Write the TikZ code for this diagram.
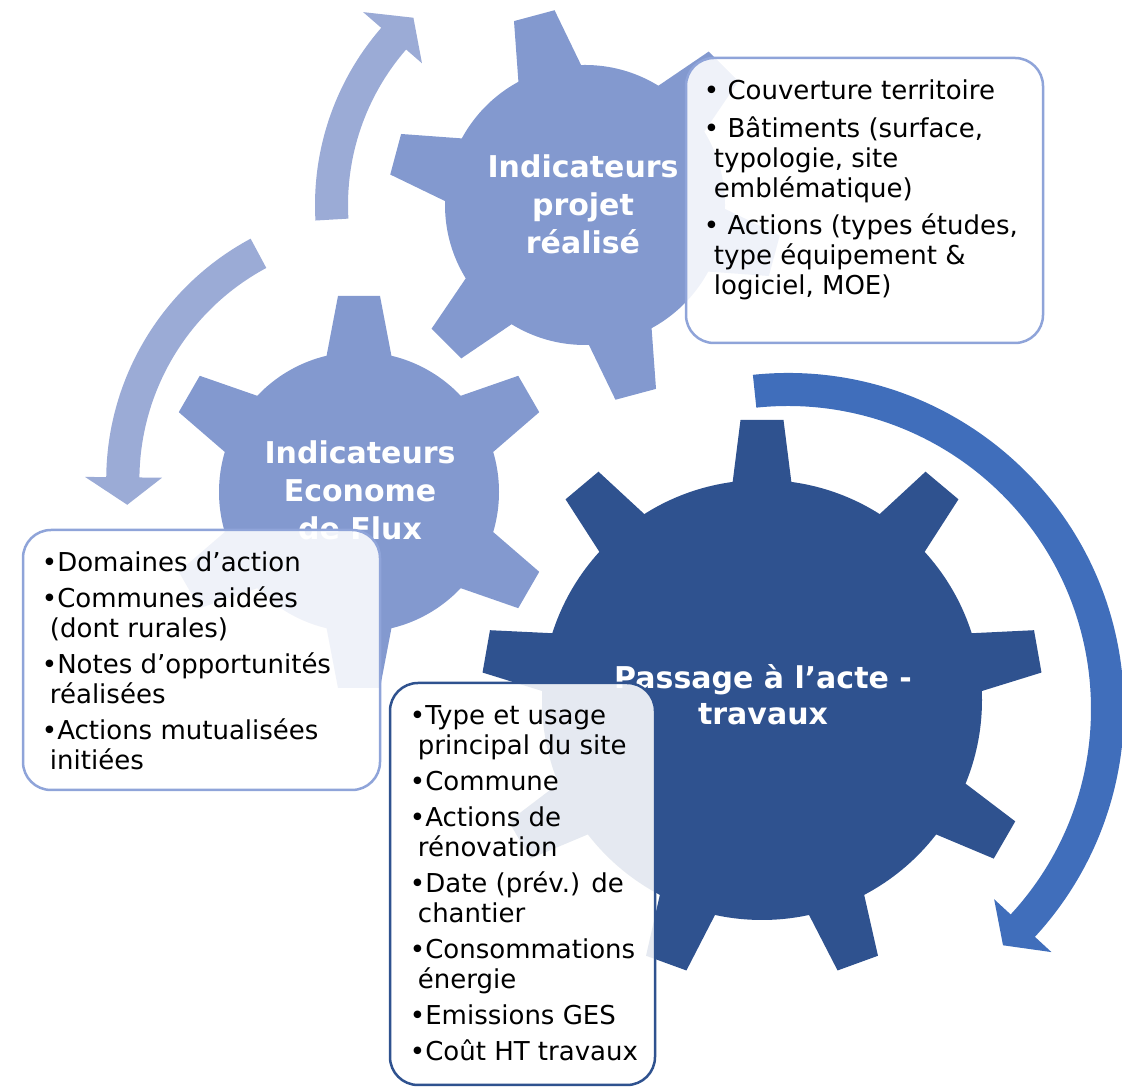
\documentclass[tikz,border=0pt]{standalone}
\usepackage{fontspec}
\setmainfont{DejaVu Sans}
\usetikzlibrary{positioning}

\definecolor{gearlight}{RGB}{131,153,207}
\definecolor{geardark}{RGB}{47,82,143}
\definecolor{arrowlight}{RGB}{155,171,214}
\definecolor{arrowdark}{RGB}{64,110,187}
\definecolor{boxline}{RGB}{143,164,217}

\begin{document}
\begin{tikzpicture}[x=1pt,y=1pt,
  geartitle/.style={text=white, align=center, font=\fontsize{30}{38}\selectfont\bfseries},
  infobox/.style={draw=boxline, line width=2.5pt, rounded corners=28pt, fill=white, fill opacity=0.88},
  listtext/.style={align=left, font=\fontsize{26}{30}\selectfont}]
\tikzstyle{every node}+=[inner sep=0pt]
\useasboundingbox (0,0) rectangle (1122,1089);

\fill[arrowlight, shift={(380,609)}] (118.2:273.8) arc[start angle=118.2, end angle=179.4, radius=273.8]
  -- (179.4:295) -- (185.6:254) -- (179.4:218) -- (179.4:240.6)
  arc[start angle=179.4, end angle=118.2, radius=240.6] -- cycle;
\fill[arrowlight, shift={(585,884)}] (183.3:270) arc[start angle=183.3, end angle=139, radius=270]
  -- (139:294) -- (132.5:254) -- (139:216) -- (139:237)
  arc[start angle=139, end angle=183.3, radius=237] -- cycle;
\fill[arrowdark, shift={(788,380)}] (96:336) arc[start angle=96, end angle=-42.7, radius=336]
  -- (-42.7:358.5) -- (-47.7:319.5) -- (-42.7:280.5) -- (-42.7:303)
  arc[start angle=-42.7, end angle=96, radius=303] -- cycle;

\begin{scope}[shift={(762,389)}]
\fill[geardark] (0,0) circle[radius=220];
\foreach \a in {90,50,...,-230}
  \fill[geardark, rotate=\a] (205,-31) -- (280,-21.5) -- (280,21.5) -- (205,31) -- cycle;
\end{scope}
\begin{scope}[shift={(585,884)}]
\fill[gearlight] (0,0) circle[radius=140];
\foreach \a in {105,165,...,405}
  \fill[gearlight, rotate=\a] (128,-34) -- (196,-21) -- (196,21) -- (128,34) -- cycle;
\end{scope}
\begin{scope}[shift={(359,597)}]
\fill[gearlight] (0,0) circle[radius=140];
\foreach \a in {90,150,...,390}
  \fill[gearlight, rotate=\a] (128,-34) -- (196,-21) -- (196,21) -- (128,34) -- cycle;
\end{scope}

\node[geartitle] (projet) at (583,885) {Indicateurs\\projet\\réalisé};
\node[geartitle] (econome) at (360,599) {Indicateurs\\Econome\\de Flux};
\node[geartitle, font=\fontsize{30}{36}\selectfont\bfseries] (passage) at (763,394) {Passage à l’acte -\\travaux};

\node[infobox, minimum width=357pt, minimum height=285pt] (boxa) at (864.5,888.5) {};
\node[infobox, minimum width=357pt, minimum height=260pt] (boxb) at (201.5,429) {};
\node[infobox, draw=geardark, minimum width=265pt, minimum height=402pt] (boxc) at (522.5,205) {};

\node[listtext, below right=23pt and 19pt of boxa.north west] (lista) {%
• Couverture territoire\\[8pt]
• Bâtiments (surface,\\
\hspace*{10pt}typologie, site\\
\hspace*{10pt}emblématique)\\[7pt]
• Actions (types études,\\
\hspace*{10pt}type équipement \&\\
\hspace*{10pt}logiciel, MOE)};
\node[listtext, below right=23pt and 20pt of boxb.north west] (listb) {%
•Domaines d’action\\[6pt]
•Communes aidées\\
\hspace*{8pt}(dont rurales)\\[6pt]
•Notes d’opportunités\\
\hspace*{8pt}réalisées\\[6pt]
•Actions mutualisées\\
\hspace*{8pt}initiées};
\node[listtext, below right=24pt and 21pt of boxc.north west] (listc) {%
•Type et usage\\
\hspace*{8pt}principal du site\\[6pt]
•Commune\\[6pt]
•Actions de\\
\hspace*{8pt}rénovation\\[6pt]
•Date (prév.) de\\
\hspace*{8pt}chantier\\[6pt]
•Consommations\\
\hspace*{8pt}énergie\\[6pt]
•Emissions GES\\[6pt]
•Coût HT travaux};
\end{tikzpicture}
\end{document}
